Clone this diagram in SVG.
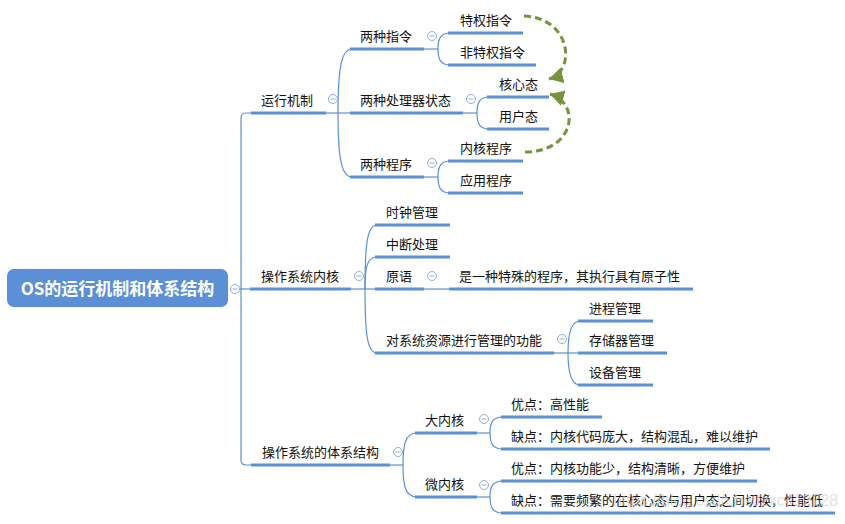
<svg xmlns="http://www.w3.org/2000/svg" width="845" height="524" viewBox="0 0 845 524">
<style>
.t{font-family:"Noto Sans CJK SC","Liberation Sans",sans-serif;font-size:13px;fill:#111;}
.rt{font-family:"Noto Sans CJK SC","Liberation Sans",sans-serif;font-size:17px;font-weight:bold;fill:#fff;}
.u{stroke:#5B8FD6;stroke-width:3;fill:none;}
.c{stroke:#5B8FD6;stroke-width:1.2;fill:none;}
.cb{stroke:#8FAEDD;stroke-width:1;fill:#fff;}
.cm{stroke:#8FAEDD;stroke-width:1;}
.d{stroke:#77933C;stroke-width:3;fill:none;stroke-dasharray:7 4;}
.wm{font-family:"Liberation Sans",Arial,sans-serif;font-size:16px;fill:#d4d4d4;fill-opacity:0.7;}
</style>
<defs>
<marker id="ah" markerUnits="userSpaceOnUse" markerWidth="16" markerHeight="16" refX="14" refY="8" orient="auto">
<path d="M0,0 L14,8 L0,16 z" fill="#77933C"/>
</marker>
<g id="col"><circle r="4.5" class="cb"/><line x1="-2.5" y1="0" x2="2.5" y2="0" class="cm"/></g>
</defs>
<rect width="845" height="524" fill="#fff"/>

<g id="connectors">
<path class="c" d="M239.5,289 L251,289"/>
<path class="c" d="M252,113 L246,113 Q241,113 241,118 L241,460 Q241,465 246,465 L252,465"/>
<path class="c" d="M326,113 L351,113"/>
<path class="c" d="M338,113 C338,70 341,49 352,49"/>
<path class="c" d="M338,113 C338,156 341,177 352,177"/>
<path class="c" d="M424,49 L438,49"/>
<path class="c" d="M438,49 C438,38 441,33 450,33"/>
<path class="c" d="M438,49 C438,60 441,65 450,65"/>
<path class="c" d="M463,113 L477,113"/>
<path class="c" d="M477,113 C477,102 480,97 489,97"/>
<path class="c" d="M477,113 C477,124 480,129 489,129"/>
<path class="c" d="M424,177 L438,177"/>
<path class="c" d="M438,177 C438,166 441,161 450,161"/>
<path class="c" d="M438,177 C438,188 441,193 450,193"/>
<path class="c" d="M351,289 L376,289"/>
<path class="c" d="M365,289 C365,245 367,225 377,225"/>
<path class="c" d="M365,289 C365,270 366,257 377,257"/>
<path class="c" d="M365,289 C365,333 367,353 377,353"/>
<path class="c" d="M424,289 L450,289"/>
<path class="c" d="M554,353 L579,353"/>
<path class="c" d="M568,353 C568,337 570,321 580,321"/>
<path class="c" d="M568,353 C568,369 570,385 580,385"/>
<path class="c" d="M390,465 L403,465"/>
<path class="c" d="M403,465 C403,445 405,433 417,433"/>
<path class="c" d="M403,465 C403,485 405,497 417,497"/>
<path class="c" d="M477,433 L490,433"/>
<path class="c" d="M490,433 C490,422 493,417 503,417"/>
<path class="c" d="M490,433 C490,444 493,449 503,449"/>
<path class="c" d="M477,497 L490,497"/>
<path class="c" d="M490,497 C490,486 493,481 503,481"/>
<path class="c" d="M490,497 C490,508 493,513 503,513"/>
<path class="d" d="M524,16 C572,18 576,72 549,79" marker-end="url(#ah)"/>
<path class="d" d="M525,152 C574,152 582,104 550,94" marker-end="url(#ah)"/>
</g>

<g id="root">
<rect x="7" y="269" width="221" height="38" rx="7" fill="#5B8FD6"/>
<text class="rt" x="117.5" y="294.5" text-anchor="middle">OS的运行机制和体系结构</text>
<use href="#col" x="235" y="289"/>
</g>

<g id="n-yunxing">
<line class="u" x1="251" y1="113" x2="326" y2="113"/>
<text class="t" x="261" y="105">运行机制</text>
<use href="#col" x="333" y="99"/>
</g>
<g id="n-liangzhong-zhiling">
<line class="u" x1="350" y1="49" x2="424" y2="49"/>
<text class="t" x="360" y="41">两种指令</text>
<use href="#col" x="432" y="36"/>
</g>
<g id="n-tequan">
<line class="u" x1="448" y1="33" x2="523" y2="33"/>
<text class="t" x="460" y="25">特权指令</text>
</g>
<g id="n-feitequan">
<line class="u" x1="448" y1="65" x2="536" y2="65"/>
<text class="t" x="460" y="57">非特权指令</text>
</g>
<g id="n-chuliqi">
<line class="u" x1="350" y1="113" x2="463" y2="113"/>
<text class="t" x="360" y="105">两种处理器状态</text>
<use href="#col" x="471" y="99"/>
</g>
<g id="n-hexin">
<line class="u" x1="487" y1="97" x2="549" y2="97"/>
<text class="t" x="499" y="89">核心态</text>
</g>
<g id="n-yonghu">
<line class="u" x1="487" y1="129" x2="549" y2="129"/>
<text class="t" x="499" y="121">用户态</text>
</g>
<g id="n-chengxu">
<line class="u" x1="350" y1="177" x2="424" y2="177"/>
<text class="t" x="360" y="169">两种程序</text>
<use href="#col" x="432" y="163"/>
</g>
<g id="n-neihe-chengxu">
<line class="u" x1="448" y1="161" x2="523" y2="161"/>
<text class="t" x="460" y="153">内核程序</text>
</g>
<g id="n-yingyong">
<line class="u" x1="448" y1="193" x2="523" y2="193"/>
<text class="t" x="460" y="185">应用程序</text>
</g>

<g id="n-neihe">
<line class="u" x1="250" y1="289" x2="351" y2="289"/>
<text class="t" x="261" y="281">操作系统内核</text>
<use href="#col" x="359" y="276"/>
</g>
<g id="n-shizhong">
<line class="u" x1="375" y1="225" x2="450" y2="225"/>
<text class="t" x="386" y="217">时钟管理</text>
</g>
<g id="n-zhongduan">
<line class="u" x1="375" y1="257" x2="450" y2="257"/>
<text class="t" x="386" y="249">中断处理</text>
</g>
<g id="n-yuanyu">
<line class="u" x1="375" y1="289" x2="424" y2="289"/>
<text class="t" x="386" y="281">原语</text>
<use href="#col" x="432" y="276"/>
</g>
<g id="n-yuanyu-desc">
<line class="u" x1="449" y1="289" x2="693" y2="289"/>
<text class="t" x="459" y="281">是一种特殊的程序，其执行具有原子性</text>
</g>
<g id="n-ziyuan">
<line class="u" x1="375" y1="353" x2="554" y2="353"/>
<text class="t" x="386" y="345">对系统资源进行管理的功能</text>
<use href="#col" x="562" y="339"/>
</g>
<g id="n-jincheng">
<line class="u" x1="578" y1="321" x2="653" y2="321"/>
<text class="t" x="589" y="313">进程管理</text>
</g>
<g id="n-cunchu">
<line class="u" x1="578" y1="353" x2="667" y2="353"/>
<text class="t" x="589" y="345">存储器管理</text>
</g>
<g id="n-shebei">
<line class="u" x1="578" y1="385" x2="653" y2="385"/>
<text class="t" x="589" y="377">设备管理</text>
</g>

<g id="n-tixi">
<line class="u" x1="251" y1="465" x2="390" y2="465"/>
<text class="t" x="262" y="457">操作系统的体系结构</text>
<use href="#col" x="398" y="452"/>
</g>
<g id="n-danei">
<line class="u" x1="415" y1="433" x2="477" y2="433"/>
<text class="t" x="425" y="425">大内核</text>
<use href="#col" x="484" y="419"/>
</g>
<g id="n-danei-you">
<line class="u" x1="501" y1="417" x2="602" y2="417"/>
<text class="t" x="511" y="409">优点：高性能</text>
</g>
<g id="n-danei-que">
<line class="u" x1="501" y1="449" x2="770" y2="449"/>
<text class="t" x="511" y="441">缺点：内核代码庞大，结构混乱，难以维护</text>
</g>
<g id="n-weinei">
<line class="u" x1="415" y1="497" x2="477" y2="497"/>
<text class="t" x="425" y="489">微内核</text>
<use href="#col" x="484" y="485"/>
</g>
<g id="n-weinei-you">
<line class="u" x1="501" y1="481" x2="757" y2="481"/>
<text class="t" x="511" y="473">优点：内核功能少，结构清晰，方便维护</text>
</g>
<g id="n-weinei-que">
<line class="u" x1="501" y1="513" x2="835" y2="513"/>
<text class="t" x="511" y="505">缺点：需要频繁的在核心态与用户态之间切换，性能低</text>
</g>

<text class="wm" x="613" y="506">https://blog.csdn.net/zxc412728</text>
</svg>
